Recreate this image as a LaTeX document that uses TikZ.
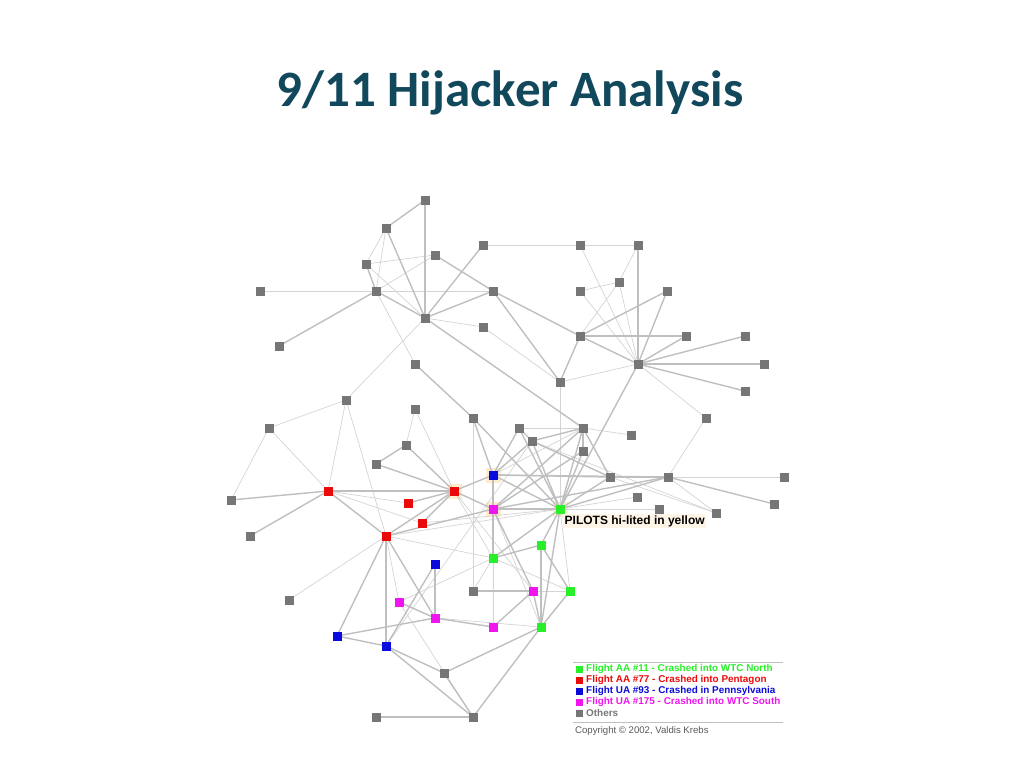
\documentclass[tikz,border=0pt]{standalone}
\usepackage{fontspec}
\setmainfont{Liberation Sans}
\newfontfamily\titlefont{Carlito}
\begin{document}
\begin{tikzpicture}[x=1pt,y=-1pt,
  nd/.style={draw=none,fill=#1,minimum size=9pt,inner sep=0pt},
  nd/.default={gray!90!black!60},
  ed/.style={draw=black!17,line width=0.7pt},
  edk/.style={draw=black!25,line width=1.4pt},
  halo/.style={fill=yellow!30!orange!18,minimum size=15pt,inner sep=0pt}]
\useasboundingbox (0,0) rectangle (1024,768);
\definecolor{gr}{RGB}{118,118,118}
\definecolor{gn}{RGB}{40,240,40}
\definecolor{rd}{RGB}{235,10,10}
\definecolor{bl}{RGB}{10,10,220}
\definecolor{mg}{RGB}{240,20,240}
\definecolor{tt}{RGB}{18,72,92}
\node[font=\titlefont\bfseries\fontsize{51}{56}\selectfont,text=tt] (title) at (510,93) {9/11 Hijacker Analysis};
% halos
\foreach \p in {(454,491),(493,475),(493,509),(560,509)} \node[halo] at \p {};
% coordinates
\foreach \n/\x/\y in {g1/425/200,g2/386/228,g3/366/264,g4/435/255,g5/483/245,g6/580/245,g7/638/245,g8/260/291,g9/376/291,g10/493/291,g11/580/291,g12/619/282,g13/667/291,g14/425/318,g15/279/346,g16/483/327,g17/580/336,g18/686/336,g19/745/336,g20/638/364,g21/764/364,g22/415/364,g23/560/382,g24/745/391,g25/346/400,g26/706/418,g27/269/428,g28/415/409,g29/473/418,g30/519/428,g31/583/428,g32/631/435,g33/532/441,g34/583/451,g35/406/445,g36/376/464,g37/610/477,g38/668/477,g39/784/477,g40/637/497,g41/231/500,g42/659/509,g43/774/504,g44/716/513,g45/250/536,g46/289/600,g47/473/591,g48/444/673,g49/376/717,g50/473/717,
 r1/328/491,r2/454/491,r3/408/503,r4/422/523,r5/386/536,
 b1/493/475,b2/435/564,b3/337/636,b4/386/646,
 m1/493/509,m2/399/602,m3/435/618,m4/533/591,m5/493/627,
 G1/560/509,G2/541/545,G3/493/558,G4/570/591,G5/541/627}
 \coordinate (\n) at (\x,\y);
% thin edges
\foreach \a/\b in {g2/g9,g2/g3,g3/g4,g3/g14,g9/g4,g8/g9,g9/g10,g5/g6,g6/g7,g7/g12,g11/g12,g12/g17,g6/g20,g11/g20,g12/g20,g14/g25,g9/g22,g16/g23,g20/g26,g26/g38,g38/g39,g30/g31,g31/g32,g33/g44,g37/g44,g23/G1,g29/g47,g25/g27,g27/g41,g27/r1,g28/g35,g28/r2,r1/r4,r1/r3,g25/r5,g25/r1,r5/G1,r5/g46,r5/m2,r2/m4,m1/G5,m2/G3,b4/g33,g47/G3,G1/g42,G1/g40,m4/G4,m2/g50,r5/G3,m1/m5,G1/G4,b1/g31,r2/G3,m3/G5,G3/G4,r4/G1,g38/g44,g20/g23,g14/g16}
 \draw[ed] (\a) -- (\b);
% thick edges
\foreach \a/\b in {g2/g1,g1/g14,g2/g14,g3/g9,g9/g14,g9/g15,g4/g10,g5/g14,g14/g10,g14/g31,g22/g29,g7/g20,g13/g17,g13/g20,g17/g18,g17/g20,g20/g18,g20/g19,g20/g21,g20/g24,g10/g17,g10/g23,g23/g17,g20/G1,g29/b1,g38/g43,g38/g37,g37/b1,g31/g37,g30/G1,g33/G1,g31/G1,g34/G1,g37/G1,g38/G1,g38/m1,g41/r1,g45/r1,r1/r2,r1/r5,g35/g36,g35/r2,g36/r2,r3/r2,r4/r2,r5/r2,r5/m1,r5/b3,r5/b4,r5/m3,r2/b1,r2/m1,b1/m1,b1/G1,m1/G1,m1/G3,m1/m4,G3/G2,g47/m4,m4/m5,G2/G5,G2/G4,G1/G2,G1/G3,G1/G5,G4/G5,G5/g48,b2/m3,m3/m5,m3/m2,b3/b4,b3/m3,b4/g48,b4/g50,g50/G5,g49/g50,b4/b2,g30/b1,g33/b1,g31/m1,g30/g33,g31/g33,g33/g37,m1/g34,b1/g38,g29/G1,m4/G5,g48/g50,g31/g34}
 \draw[edk] (\a) -- (\b);
% nodes
\foreach \n in {g1,g2,g3,g4,g5,g6,g7,g8,g9,g10,g11,g12,g13,g14,g15,g16,g17,g18,g19,g20,g21,g22,g23,g24,g25,g26,g27,g28,g29,g30,g31,g32,g33,g34,g35,g36,g37,g38,g39,g40,g41,g42,g43,g44,g45,g46,g47,g48,g49,g50}
 \node[nd=gr] (n\n) at (\n) {};
\foreach \n in {r1,r2,r3,r4,r5} \node[nd=rd] (n\n) at (\n) {};
\foreach \n in {b1,b2,b3,b4} \node[nd=bl] (n\n) at (\n) {};
\foreach \n in {m1,m2,m3,m4,m5} \node[nd=mg] (n\n) at (\n) {};
\foreach \n in {G1,G2,G3,G4,G5} \node[nd=gn] (n\n) at (\n) {};
% pilot label
\node[fill=yellow!12!orange!8,anchor=west,inner sep=1.5pt,font=\bfseries\fontsize{12}{13}\selectfont] (pil) at (563,521) {PILOTS hi-lited in yellow};
% legend
\draw[black!25,line width=0.8pt] (573,662) -- (783,662);
\draw[black!25,line width=0.8pt] (573,722) -- (783,722);
\foreach \y/\c/\t in {669/gn/{Flight AA \#11 - Crashed into WTC North},680/rd/{Flight AA \#77 - Crashed into Pentagon},691/bl/{Flight UA \#93 - Crashed in Pennsylvania},702/mg/{Flight UA \#175 - Crashed into WTC South},713/gr/{Others}}{
 \node[fill=\c,minimum size=7pt,inner sep=0pt] at (579,\y) {};
 \node[anchor=west,inner sep=0pt,text=\c,font=\bfseries\fontsize{9.9}{10}\selectfont] at (586,\y) {\t};}
\node[anchor=west,inner sep=0pt,text=black!65,font=\fontsize{9.6}{10}\selectfont] (copy) at (575,731) {Copyright © 2002, Valdis Krebs};
\end{tikzpicture}
\end{document}
